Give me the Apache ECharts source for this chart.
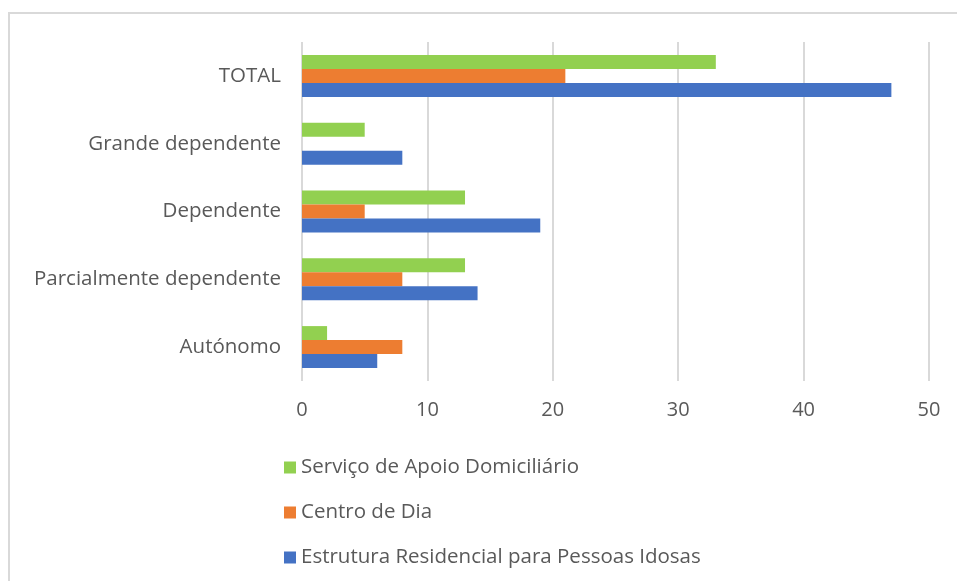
<!DOCTYPE html>
<html><head><meta charset="utf-8">
<script src="https://cdn.jsdelivr.net/npm/echarts@6/dist/echarts.min.js"></script>
<style>html,body{margin:0;padding:0;background:#fff}#c{width:957px;height:581px}</style>
</head><body><div id="c"></div>
<script>
const categories = ['Autónomo', 'Parcialmente dependente', 'Dependente', 'Grande dependente', 'TOTAL'];
const seriesNames = ['Serviço de Apoio Domiciliário', 'Centro de Dia', 'Estrutura Residencial para Pessoas Idosas'];
const sadValues = [2, 13, 13, 5, 33];
const cdValues = [8, 8, 5, 0, 21];
const erpiValues = [6, 14, 19, 8, 47];
const xTicks = [0, 10, 20, 30, 40, 50];
const colors = ['#92d050', '#ed7d31', '#4472c4'];

const chart = echarts.init(document.getElementById('c'), null, {renderer: 'canvas'});
const font = '"Open Sans", "Noto Sans", sans-serif';
const mk = (name, data, color) => ({
  name, type: 'bar', data, barWidth: 14, barGap: '0%',
  itemStyle: {color}, emphasis: {disabled: true}
});
chart.setOption({
  animation: false,
  textStyle: {fontFamily: font},
  graphic: [{type: 'rect', shape: {x: 9, y: 13, width: 970, height: 600}, style: {fill: 'none', stroke: '#d9d9d9', lineWidth: 2}, silent: true}],
  grid: {left: 302, right: 28, top: 42, height: 339, containLabel: false},
  xAxis: {
    type: 'value', min: xTicks[0], max: xTicks[xTicks.length - 1], interval: 10,
    axisLine: {show: false}, axisTick: {show: false},
    splitLine: {lineStyle: {color: '#d9d9d9', width: 2}},
    axisLabel: {color: '#595959', fontSize: 20, margin: 19, fontFamily: font}
  },
  yAxis: {
    type: 'category', data: categories,
    axisLine: {show: false}, axisTick: {show: false},
    axisLabel: {color: '#595959', fontSize: 20.5, margin: 21, fontFamily: font}
  },
  legend: {
    orient: 'vertical', left: 279, top: 452, itemGap: 24,
    icon: 'rect', itemWidth: 12, itemHeight: 12,
    data: seriesNames,
    textStyle: {color: '#595959', fontSize: 20.5, fontFamily: font, padding: [0, 0, 0, 0]}
  },
  series: [
    mk(seriesNames[0], sadValues, colors[0]),
    mk(seriesNames[1], cdValues, colors[1]),
    mk(seriesNames[2], erpiValues, colors[2])
  ]
});
</script></body></html>
